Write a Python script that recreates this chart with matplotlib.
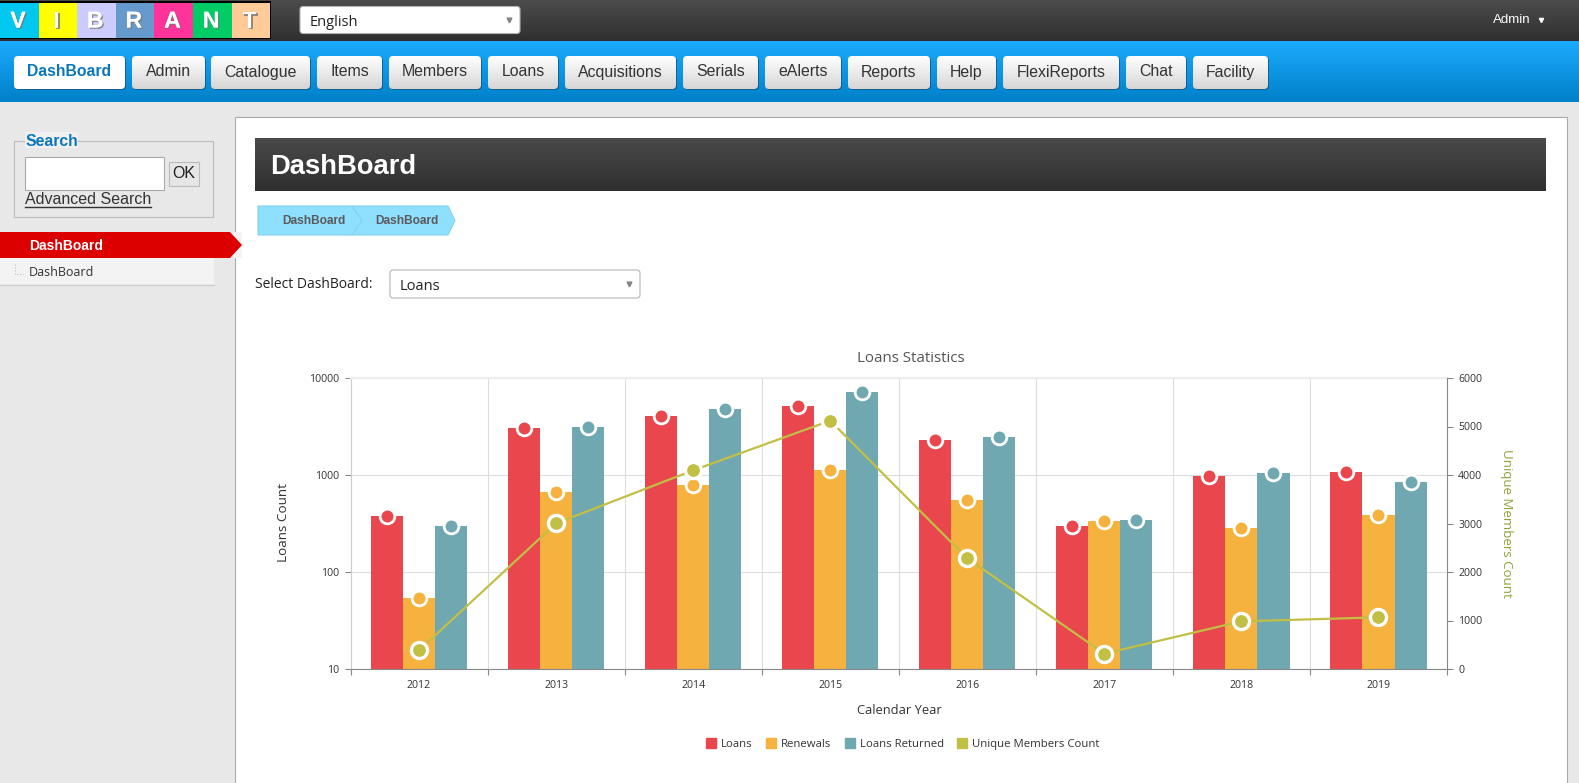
import numpy as np
import matplotlib
matplotlib.use('Agg')
import matplotlib.pyplot as plt
from matplotlib.lines import Line2D
from matplotlib.patches import FancyBboxPatch, Polygon, Rectangle
import matplotlib.patheffects as pe

years = ['2012', '2013', '2014', '2015', '2016', '2017', '2018', '2019']
loans = [381, 3027, 4090, 5145, 2314, 300, 985, 1065]
renewals = [53.5, 663, 789, 1135, 552, 336, 284, 387]
returned = [300, 3126, 4830, 7175, 2466, 343, 1057, 853]
unique_members = [385, 3003, 4096, 5120, 2282, 316, 983, 1065]

series_names = ['Loans', 'Renewals', 'Loans Returned', 'Unique Members Count']
series_colors = ['#ea464d', '#f5b23e', '#6fa8b1', '#c2bf45']

nav_labels = ['DashBoard', 'Admin', 'Catalogue', 'Items', 'Members', 'Loans', 'Acquisitions',
              'Serials', 'eAlerts', 'Reports', 'Help', 'FlexiReports', 'Chat', 'Facility']
nav_left = [14, 132, 211, 317, 389, 488, 565, 683, 765, 848, 937, 1003, 1126, 1193]
nav_right = [125, 205, 310, 382, 481, 558, 676, 758, 841, 930, 996, 1119, 1186, 1268]
logo_letters = list('VIBRANT')
logo_colors = ['#00c8f0', '#ffff00', '#ccccff', '#6699cc', '#ff3399', '#00cc66', '#ffcc99']

WIDTH, HEIGHT = 1579, 783
UI_FONT = 'Liberation Sans'
CHART_FONT = 'Open Sans'

fig = plt.figure(figsize=(WIDTH / 100, HEIGHT / 100), dpi=100, facecolor='#e8e8e8')
page = fig.add_axes([0, 0, 1, 1])
page.set_axis_off()


def gradient(x0, y0, x1, y1, top, bottom, clip=None):
    rgb = np.linspace(matplotlib.colors.to_rgb(top), matplotlib.colors.to_rgb(bottom), 64)
    im = page.imshow(rgb[:, None, :], extent=(x0, x1, y1, y0), aspect='auto', zorder=2)
    if clip is not None:
        im.set_clip_path(clip)


def rounded(x0, y0, x1, y1, radius=4, **kw):
    patch = FancyBboxPatch((x0, y0), x1 - x0, y1 - y0,
                           boxstyle='round,pad=0,rounding_size=%s' % radius, **kw)
    page.add_patch(patch)
    return patch


def label(x, y, s, size=10, color='#222222', weight='normal', ha='left', family=UI_FONT, **kw):
    # matplotlib centres on the glyph box, browser text sits about 1px lower
    return page.text(x, y + 1, s, fontsize=size, color=color, fontweight=weight, ha=ha, va='center',
                     family=family, zorder=5, **kw)


def select_box(x0, y0, x1, y1, text, text_x):
    rounded(x0, y0, x1, y1, radius=3, facecolor='white', edgecolor='#b4b4b4', linewidth=0.8, zorder=3)
    label(text_x, (y0 + y1) / 2 + 1, text, size=10.5, color='#222222', family=CHART_FONT)
    page.plot([x1 - 11], [(y0 + y1) / 2], 'v', color='#888888', markersize=3.5, zorder=4)


# top bar and nav
gradient(0, 0, WIDTH, 41, '#4c4c4c', '#2f2f2f')
gradient(0, 41, WIDTH, 102, '#1cabff', '#0080c8')
page.add_patch(Rectangle((0, 1), 271, 38, facecolor='black', zorder=3))
for i, (letter, color) in enumerate(zip(logo_letters, logo_colors)):
    page.add_patch(Rectangle((i * 38.6, 2.5), 38.6, 35, facecolor=color, zorder=3))
    txt = label(i * 38.6 + 18, 20, letter, size=16.5, color='white', weight='bold', ha='center')
    txt.set_path_effects([pe.withSimplePatchShadow(offset=(1, -1), shadow_rgbFace='#777777', alpha=0.8),
                          pe.Normal()])
select_box(300, 6.5, 520, 33.5, 'English', 310)
label(1493, 19, 'Admin', size=9.6, color='white')
page.plot([1541], [20], 'v', color='white', markersize=3, zorder=4)

for i, (name, x0, x1) in enumerate(zip(nav_labels, nav_left, nav_right)):
    rounded(x0 + 1, 57, x1 + 1, 90, facecolor='#15608c', edgecolor='none', zorder=2)
    if i == 0:
        rounded(x0, 56, x1, 89, facecolor='white', edgecolor='none', zorder=3)
        label((x0 + x1) / 2, 71, name, size=11.3, color='#0a77b9', weight='bold', ha='center')
    else:
        clip = rounded(x0, 56, x1, 89, facecolor='none', edgecolor='none', zorder=3)
        gradient(x0, 56, x1, 89, '#ffffff', '#d6d6d6', clip=clip)
        label((x0 + x1) / 2, 71, name, size=11.4, color='#333333', ha='center')

# side panel
page.add_patch(Rectangle((14, 141), 199, 76, facecolor='none', edgecolor='#bbbbbb', linewidth=0.8, zorder=2))
page.add_patch(Rectangle((25, 132), 53, 16, facecolor='#f0f0f0', edgecolor='none', zorder=3))
label(26, 140, 'Search', size=11.3, color='#0a77b9', weight='bold')
page.add_patch(Rectangle((25, 157), 139, 33, facecolor='white', edgecolor='#aaaaaa', linewidth=0.8, zorder=3))
page.add_patch(Rectangle((169, 162), 30, 24, facecolor='#e6e6e6', edgecolor='#bbbbbb', linewidth=0.8, zorder=3))
label(184, 173, 'OK', size=11.5, color='#222222', ha='center')
label(25, 199, 'Advanced Search', size=11.5, color='#333333')
page.plot([25, 151], [207, 207], color='#333333', linewidth=1, zorder=5)
page.add_patch(Rectangle((230, 232), 12, 26, facecolor='#f3f3f3', edgecolor='none', zorder=3))
page.add_patch(Polygon([(0, 232), (230, 232), (242, 245), (230, 258), (0, 258)], facecolor='#dd0000', zorder=4))
label(29, 245, 'DashBoard', size=10, color='white', weight='bold')
page.add_patch(Rectangle((0, 258), 214, 26, facecolor='#f3f3f3', edgecolor='none', zorder=2))
page.plot([0, 214], [284.5, 284.5], color='#cccccc', linewidth=0.8, zorder=3)
page.plot([15, 15, 23], [264, 274, 274], color='#bbbbbb', linewidth=0.8, linestyle=':', zorder=3)
label(29, 272, 'DashBoard', size=9, color='#333333', family=CHART_FONT)

# content panel
page.add_patch(Rectangle((235, 117), 1331.5, 700, facecolor='white', edgecolor='#aaaaaa', linewidth=0.8, zorder=1))
gradient(255, 138, 1546, 191, '#4a4a4a', '#2f2f2f')
label(270, 166, 'DashBoard', size=19.7, color='white', weight='bold')
page.add_patch(Polygon([(258, 206), (448, 206), (455, 220.5), (448, 235), (258, 235)],
                       facecolor='#8fdfff', edgecolor='#85d0f2', linewidth=0.8, zorder=2))
page.plot([352, 362, 352], [206, 220.5, 235], color='#85d0f2', linewidth=0.8, zorder=3)
label(282, 220, 'DashBoard', size=8.6, color='#5a5a5a', weight='bold')
label(375, 220, 'DashBoard', size=8.6, color='#5a5a5a', weight='bold')
label(255, 283, 'Select DashBoard:', size=10, color='#222222', family=CHART_FONT)
select_box(390, 270, 640, 298, 'Loans', 400)

page.set_xlim(0, WIDTH)
page.set_ylim(HEIGHT, 0)

# chart
left, right, top, bottom = 350.5, 1447, 378, 669
ax = fig.add_axes([left / WIDTH, 1 - bottom / HEIGHT, (right - left) / WIDTH, (bottom - top) / HEIGHT])
ax.set_facecolor('white')
ax.set_yscale('log')
ax.set_xlim(-0.5, len(years) - 0.5)
ax.set_ylim(10, 10000)

x = np.arange(len(years))
bar_w = 0.234
for offset, vals, color in zip([-bar_w, 0, bar_w], [loans, renewals, returned], series_colors):
    ax.bar(x + offset, vals, bar_w, color=color, zorder=2)
    ax.plot(x + offset, vals, 'o', color=color, markersize=10.6, markeredgecolor='white',
            markeredgewidth=2, clip_on=False, zorder=3)

ax.set_xticks(np.append(x - 0.5, len(years) - 0.5))
ax.set_xticklabels([])
ax.set_xticks(x, labels=years, minor=True)
ax.tick_params(axis='x', which='major', length=4, width=0.8, color='#888888')
ax.tick_params(axis='x', which='minor', length=0, labelsize=7.6, labelcolor='#333333', pad=8)
ax.tick_params(axis='y', which='major', length=4, width=0.8, color='#888888', labelsize=7.6,
               labelcolor='#333333', pad=4)
ax.yaxis.set_minor_locator(matplotlib.ticker.NullLocator())
ax.set_yticks([10, 100, 1000, 10000], labels=['10', '100', '1000', '10000'])
ax.grid(True, which='major', color='#dddddd', linewidth=0.8, zorder=0)
ax.set_axisbelow(True)
ax.spines['right'].set_visible(False)
ax.spines['left'].set_color('#cccccc')
ax.spines['bottom'].set_color('#888888')
ax.spines['top'].set_color('#eeeeee')
ax.spines['top'].set_linewidth(1.6)

ax2 = ax.twinx()
ax2.set_ylim(0, 6000)
ax2.set_yticks(range(0, 6001, 1000))
ax2.plot(x, unique_members, color=series_colors[3], linewidth=1.6, marker='o', markersize=11.6,
         markeredgecolor='white', markeredgewidth=2.4, clip_on=False, zorder=4)
ax2.tick_params(axis='y', length=4, width=0.8, color='#888888', labelsize=7.6, labelcolor='#333333', pad=4)
for name in ['top', 'left', 'bottom']:
    ax2.spines[name].set_visible(False)
ax2.spines['right'].set_color('#888888')

for tick_label in ax.get_xticklabels(minor=True) + ax.get_yticklabels() + ax2.get_yticklabels():
    tick_label.set_family(CHART_FONT)

label(911, 358, 'Loans Statistics', size=10.9, color='#555555', ha='center', family=CHART_FONT)
label(283.5, 521.5, 'Loans Count', size=9.7, color='#333333', ha='center', rotation=90, family=CHART_FONT)
label(1506, 522, 'Unique Members Count', size=9.5, color='#8fa336', ha='center', rotation=270, family=CHART_FONT)
label(899, 710, 'Calendar Year', size=9.3, color='#333333', ha='center', family=CHART_FONT)

handles = [Line2D([], [], linestyle='none', marker='s', markersize=6.5, color=c) for c in series_colors]
fig.legend(handles, series_names, ncol=4, loc='center', bbox_to_anchor=(903 / WIDTH, 1 - 744.5 / HEIGHT),
           frameon=False, prop={'family': CHART_FONT, 'size': 8.2}, labelcolor='#333333',
           handletextpad=0.5, columnspacing=1.2, handlelength=0.8)

fig.savefig('out.png', dpi=100, facecolor=fig.get_facecolor())
